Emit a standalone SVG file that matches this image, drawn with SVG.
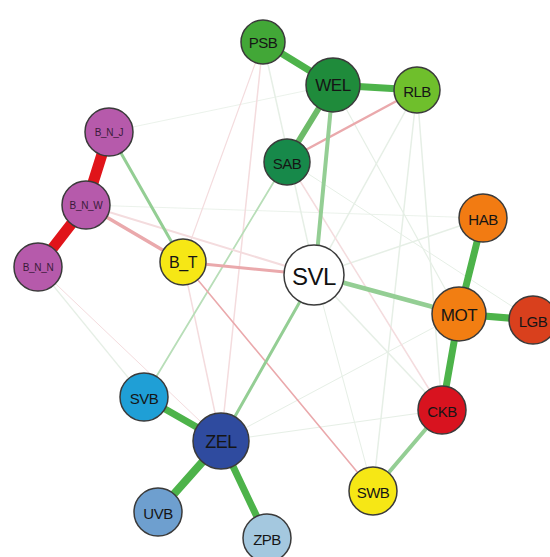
<svg xmlns="http://www.w3.org/2000/svg" width="550" height="557" viewBox="0 0 550 557">
<style>
.n{stroke:#3a3a3a;stroke-width:1.5}
.t{font-family:"Liberation Sans",Arial,sans-serif;font-size:15px;fill:#151515;text-anchor:middle;dominant-baseline:central;letter-spacing:-0.5px}
.s{font-size:10px;fill:#3a1a3a;letter-spacing:-0.3px}
.e{fill:none;stroke-linecap:round}
.g1{stroke:#4db34a}
.g2{stroke:#94ce94}
.g3{stroke:#e6efe6}
.r1{stroke:#e0141a}
.p1{stroke:#eaa9ac}
.p2{stroke:#f4dcde}
</style>
<rect width="550" height="557" fill="#fff"/>
<g id="connectors">
<line class="e g3" stroke-width="1.5" x1="263" y1="42" x2="315" y2="275"/>
<line class="e g3" stroke-width="1.5" x1="417" y1="90" x2="315" y2="275"/>
<line class="e g3" stroke-width="1.5" x1="417" y1="90" x2="373" y2="491"/>
<line class="e g3" stroke-width="1.5" x1="417" y1="90" x2="442" y2="410"/>
<line class="e g3" stroke-width="1.2" x1="333" y1="85" x2="459" y2="314"/>
<line class="e g3" stroke-width="1" x1="287" y1="160" x2="533" y2="320"/>
<line class="e g3" stroke-width="1.5" x1="483" y1="218" x2="315" y2="275"/>
<line class="e g3" stroke-width="1.2" x1="38" y1="267" x2="144" y2="397"/>
<line class="e g3" stroke-width="1" x1="221" y1="441" x2="459" y2="314"/>
<line class="e g3" stroke-width="1" x1="221" y1="441" x2="442" y2="410"/>
<line class="e g3" stroke-width="1" x1="315" y1="275" x2="373" y2="491"/>
<line class="e g3" stroke-width="1.5" x1="315" y1="275" x2="442" y2="410"/>
<line class="e g3" stroke-width="0.8" x1="109" y1="132" x2="333" y2="85"/>
<line class="e g3" stroke-width="0.8" x1="86" y1="205" x2="483" y2="218"/>
<line class="e p2" stroke-width="1.2" x1="263" y1="42" x2="183" y2="262"/>
<line class="e p2" stroke-width="1.5" x1="263" y1="42" x2="221" y2="441"/>
<line class="e p2" stroke-width="1.5" x1="183" y1="262" x2="221" y2="441"/>
<line class="e p2" stroke-width="1.5" x1="287" y1="160" x2="442" y2="410"/>
<line class="e p2" stroke-width="1" x1="38" y1="267" x2="221" y2="441"/>
<line class="e" stroke="#b8deb8" stroke-width="1.8" x1="287" y1="160" x2="144" y2="397"/>
<line class="e p1" stroke-width="1.6" x1="183" y1="262" x2="373" y2="491"/>
<line class="e p1" stroke-width="2.5" x1="287" y1="160" x2="417" y2="90"/>
<line class="e p2" stroke-width="2" x1="86" y1="205" x2="315" y2="275"/>
<line class="e p1" stroke-width="3.5" x1="86" y1="205" x2="183" y2="262"/>
<line class="e p1" stroke-width="3" x1="183" y1="262" x2="315" y2="275"/>
<line class="e g2" stroke-width="3" x1="109" y1="132" x2="183" y2="262"/>
<line class="e g2" stroke-width="4" x1="333" y1="85" x2="315" y2="275"/>
<line class="e g2" stroke-width="4.5" x1="315" y1="275" x2="459" y2="314"/>
<line class="e g2" stroke-width="3" x1="315" y1="275" x2="221" y2="441"/>
<line class="e g2" stroke-width="4" x1="442" y1="410" x2="373" y2="491"/>
<line class="e" stroke="#6dbb69" stroke-width="6" x1="333" y1="85" x2="287" y2="160"/>
<line class="e g1" stroke-width="7" x1="263" y1="42" x2="333" y2="85"/>
<line class="e g1" stroke-width="7" x1="333" y1="85" x2="417" y2="90"/>
<line class="e g1" stroke-width="7" x1="483" y1="218" x2="459" y2="314"/>
<line class="e g1" stroke-width="7" x1="459" y1="314" x2="533" y2="320"/>
<line class="e g1" stroke-width="7" x1="459" y1="314" x2="442" y2="410"/>
<line class="e g1" stroke-width="7" x1="144" y1="397" x2="221" y2="441"/>
<line class="e g1" stroke-width="8" x1="221" y1="441" x2="158" y2="512"/>
<line class="e g1" stroke-width="7" x1="221" y1="441" x2="267" y2="538"/>
<line class="e r1" stroke-width="11" x1="109" y1="132" x2="86" y2="205"/>
<line class="e r1" stroke-width="11" x1="86" y1="205" x2="38" y2="267"/>
</g>
<g id="PSB"><circle class="n" cx="263" cy="42" r="22" fill="#42a737"/><text class="t" x="263" y="42">PSB</text></g>
<g id="WEL"><circle class="n" cx="333" cy="85" r="27" fill="#1f8b3b"/><text class="t" x="333" y="85" style="font-size:17px">WEL</text></g>
<g id="RLB"><circle class="n" cx="417" cy="90" r="23" fill="#6fbf2c"/><text class="t" x="417" y="91">RLB</text></g>
<g id="SAB"><circle class="n" cx="287" cy="162" r="23" fill="#17894a"/><text class="t" x="287" y="163">SAB</text></g>
<g id="B_N_J"><circle class="n" cx="109" cy="132" r="24" fill="#b65aab"/><text class="t s" x="109" y="132">B_N_J</text></g>
<g id="B_N_W"><circle class="n" cx="86" cy="205" r="24" fill="#b65aab"/><text class="t s" x="86" y="205">B_N_W</text></g>
<g id="B_N_N"><circle class="n" cx="38" cy="267" r="24" fill="#b65aab"/><text class="t s" x="38" y="267">B_N_N</text></g>
<g id="B_T"><circle class="n" cx="183" cy="262" r="23" fill="#f6e715"/><text class="t" x="183" y="262" style="font-size:16px">B_T</text></g>
<g id="SVL"><circle class="n" cx="314" cy="275" r="30" fill="#ffffff"/><text class="t" x="314" y="276" style="font-size:24px;fill:#111">SVL</text></g>
<g id="HAB"><circle class="n" cx="483" cy="218" r="24" fill="#f27b12"/><text class="t" x="483" y="219">HAB</text></g>
<g id="MOT"><circle class="n" cx="459" cy="314" r="27" fill="#f27e12"/><text class="t" x="459" y="315" style="font-size:17px">MOT</text></g>
<g id="LGB"><circle class="n" cx="533" cy="320" r="24" fill="#d9401d"/><text class="t" x="533" y="321">LGB</text></g>
<g id="CKB"><circle class="n" cx="442" cy="410" r="24" fill="#d8131f"/><text class="t" x="442" y="411">CKB</text></g>
<g id="SWB"><circle class="n" cx="373" cy="491" r="24" fill="#f6e715"/><text class="t" x="373" y="492">SWB</text></g>
<g id="SVB"><circle class="n" cx="144" cy="397" r="24" fill="#1f9fd6"/><text class="t" x="144" y="398">SVB</text></g>
<g id="ZEL"><circle class="n" cx="221" cy="441" r="28" fill="#2f4b9f"/><text class="t" x="221" y="442" style="font-size:18px">ZEL</text></g>
<g id="UVB"><circle class="n" cx="158" cy="512" r="24" fill="#6e9fcf"/><text class="t" x="158" y="513">UVB</text></g>
<g id="ZPB"><circle class="n" cx="267" cy="538" r="24" fill="#a4c8df"/><text class="t" x="267" y="539">ZPB</text></g>
</svg>
